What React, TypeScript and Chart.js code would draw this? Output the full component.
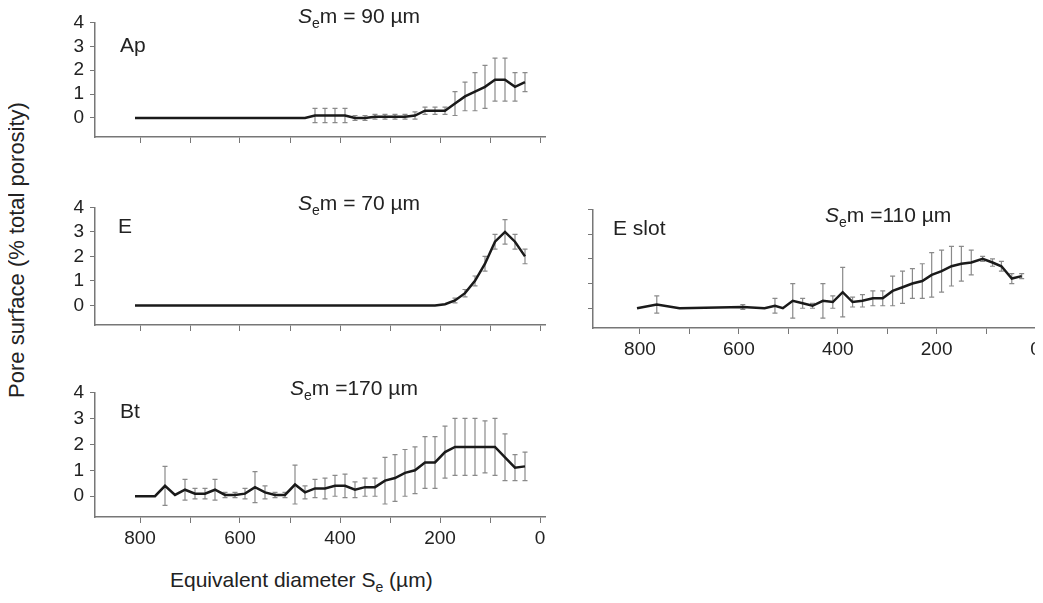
import React, { useEffect, useRef } from "react";
import { Chart, registerables } from "chart.js";
Chart.register(...registerables);

const apX = [810,470,450,430,410,390,370,350,330,310,290,270,250,230,210,190,170,150,130,110,90,70,50,30];
const apY = [0,0,0.1,0.1,0.1,0.1,0,0,0.05,0.05,0.05,0.05,0.1,0.3,0.3,0.3,0.6,0.9,1.1,1.3,1.6,1.6,1.3,1.5];
const apE = [0,0,0.3,0.3,0.3,0.3,0.1,0.1,0.1,0.1,0.1,0.1,0.15,0.15,0.15,0.15,0.5,0.6,0.8,0.9,0.9,0.9,0.6,0.4];

const eX = [810,210,190,170,150,130,110,90,70,50,30];
const eY = [0,0,0.05,0.2,0.5,1.0,1.7,2.6,3.0,2.6,2.0];
const eE = [0,0,0,0.1,0.15,0.2,0.3,0.3,0.5,0.3,0.3];

const btX = [810,770,750,730,710,690,670,650,630,610,590,570,550,530,510,490,470,450,430,410,390,370,350,330,310,290,270,250,230,210,190,170,150,130,110,90,70,50,30];
const btY = [0,0,0.4,0.05,0.25,0.1,0.1,0.25,0.05,0.05,0.1,0.35,0.15,0.05,0.05,0.45,0.15,0.3,0.3,0.4,0.4,0.25,0.35,0.35,0.6,0.7,0.9,1.0,1.3,1.3,1.7,1.9,1.9,1.9,1.9,1.9,1.5,1.1,1.15];
const btE = [0,0,0.75,0,0.4,0.2,0.2,0.4,0.1,0.1,0.2,0.6,0.25,0.1,0.1,0.75,0.25,0.35,0.4,0.4,0.45,0.3,0.35,0.35,0.9,0.9,0.9,0.9,1.0,1.0,1.0,1.1,1.1,1.1,1.0,1.1,0.9,0.5,0.55];

const esX = [806,766,720,592,548,527,511,491,471,451,430,410,390,370,350,329,309,289,269,249,229,210,190,170,150,130,107,87,69,48,28];
const esY = [0,0.15,0,0.05,0,0.1,0,0.3,0.2,0.1,0.3,0.25,0.65,0.25,0.3,0.4,0.4,0.7,0.85,1.0,1.1,1.35,1.5,1.7,1.8,1.85,2.0,1.85,1.7,1.2,1.3];
const esE = [0,0.35,0,0.1,0,0.3,0,0.7,0.2,0.1,0.7,0.25,1.0,0.2,0.25,0.3,0.3,0.6,0.65,0.6,0.7,0.9,0.85,0.8,0.7,0.5,0.1,0.15,0.2,0.2,0.1];

const xTicks = [0,100,200,300,400,500,600,700,800];
const yTicks = [0,1,2,3,4];

const FONT = "'Liberation Sans', Arial, sans-serif";

const errPlugin = {
  id: "errbars",
  beforeDatasetsDraw(chart: any) {
    const errs: number[] = chart.options.plugins.errbars.errs;
    const data: any[] = chart.data.datasets[0].data;
    const xs = chart.scales.x, ys = chart.scales.y;
    const ctx = chart.ctx;
    ctx.save();
    ctx.strokeStyle = "#8a8a8a";
    ctx.lineWidth = 1.2;
    data.forEach((p, i) => {
      const e = errs[i];
      if (!e) return;
      const px = xs.getPixelForValue(p.x);
      const y1 = ys.getPixelForValue(p.y - e), y2 = ys.getPixelForValue(p.y + e);
      ctx.beginPath();
      ctx.moveTo(px, y1); ctx.lineTo(px, y2);
      ctx.moveTo(px - 2.5, y1); ctx.lineTo(px + 2.5, y1);
      ctx.moveTo(px - 2.5, y2); ctx.lineTo(px + 2.5, y2);
      ctx.stroke();
    });
    ctx.restore();
  },
};

type PanelProps = { left: number; top: number; width: number; height: number; xs: number[]; ys: number[]; es: number[]; xmin: number; xmax: number; showX: boolean; showY: boolean };

function Panel(p: PanelProps) {
  const ref = useRef<HTMLCanvasElement>(null);
  useEffect(() => {
    const W = 50, H = 42;
    const chart = new Chart(ref.current!, {
      type: "line",
      data: { datasets: [{ data: p.xs.map((x, i) => ({ x, y: p.ys[i] })), borderColor: "#1a1a1a", borderWidth: 2.5, pointRadius: 0, tension: 0, fill: false }] },
      plugins: [errPlugin],
      options: {
        animation: false, responsive: false, maintainAspectRatio: false,
        layout: { padding: { top: 10, right: 10, left: 0, bottom: 0 } },
        plugins: { legend: { display: false }, tooltip: { enabled: false }, errbars: { errs: p.es } } as any,
        scales: {
          x: {
            type: "linear", reverse: true, min: p.xmin, max: p.xmax,
            afterBuildTicks: (s: any) => { s.ticks = xTicks.map((v) => ({ value: v })); },
            afterFit: (s: any) => { s.height = H; },
            grid: { drawOnChartArea: false, drawTicks: true, tickLength: 6, color: "#777" },
            border: { color: "#777", width: 1.5 },
            ticks: { autoSkip: false, maxRotation: 0, color: "#222", font: { family: FONT, size: 19 }, padding: 4,
              callback: (v: any) => (p.showX && v % 200 === 0 ? String(v) : "") },
          },
          y: {
            type: "linear", min: -0.8, max: 4,
            afterBuildTicks: (s: any) => { s.ticks = yTicks.map((v) => ({ value: v })); },
            afterFit: (s: any) => { s.width = W; },
            grid: { drawOnChartArea: false, drawTicks: true, tickLength: 5, color: "#777" },
            border: { color: "#777", width: 1.5 },
            ticks: { color: "#222", font: { family: FONT, size: 19 }, padding: 6,
              callback: (v: any) => (p.showY ? String(v) : "") },
          },
        },
      } as any,
    });
    return () => chart.destroy();
  }, []);
  return (
    <div style={{ position: "absolute", left: p.left - 50, top: p.top - 10, width: p.width + 60, height: p.height + 52 }}>
      <canvas ref={ref} width={p.width + 60} height={p.height + 52} style={{ width: p.width + 60, height: p.height + 52 }} />
    </div>
  );
}

const txt: React.CSSProperties = { position: "absolute", fontFamily: FONT, fontSize: 21, color: "#222", whiteSpace: "nowrap" };

function Sem({ left, top, val }: { left: number; top: number; val: string }) {
  return (
    <div style={{ ...txt, left, top }}>
      <i>S</i><sub style={{ fontSize: 14 }}>e</sub>m{val} µm
    </div>
  );
}

export default function App() {
  return (
    <div style={{ position: "relative", width: 1043, height: 603, background: "#fff", overflow: "hidden", margin: -8 }}>
      <Panel left={95} top={15} width={450} height={122} xs={apX} ys={apY} es={apE} xmin={-10} xmax={890} showX={false} showY={true} />
      <Panel left={95} top={200} width={450} height={125} xs={eX} ys={eY} es={eE} xmin={-10} xmax={890} showX={false} showY={true} />
      <Panel left={95} top={385} width={450} height={132} xs={btX} ys={btY} es={btE} xmin={-10} xmax={890} showX={true} showY={true} />
      <Panel left={593} top={202} width={445} height={126} xs={esX} ys={esY} es={esE} xmin={-5} xmax={895} showX={true} showY={false} />
      <div style={{ ...txt, left: 120, top: 33 }}>Ap</div>
      <div style={{ ...txt, left: 118, top: 214 }}>E</div>
      <div style={{ ...txt, left: 613, top: 216 }}>E slot</div>
      <div style={{ ...txt, left: 120, top: 399 }}>Bt</div>
      <Sem left={298} top={4} val=" = 90" />
      <Sem left={298} top={191} val=" = 70" />
      <Sem left={290} top={376} val=" =170" />
      <Sem left={825} top={203} val=" =110" />
      <div style={{ ...txt, fontSize: 22, left: 17, top: 250, transform: "translate(-50%,-50%) rotate(-90deg)" }}>Pore surface (% total porosity)</div>
      <div style={{ ...txt, left: 170, top: 568 }}>Equivalent diameter S<sub style={{ fontSize: 14 }}>e</sub> (µm)</div>
    </div>
  );
}
